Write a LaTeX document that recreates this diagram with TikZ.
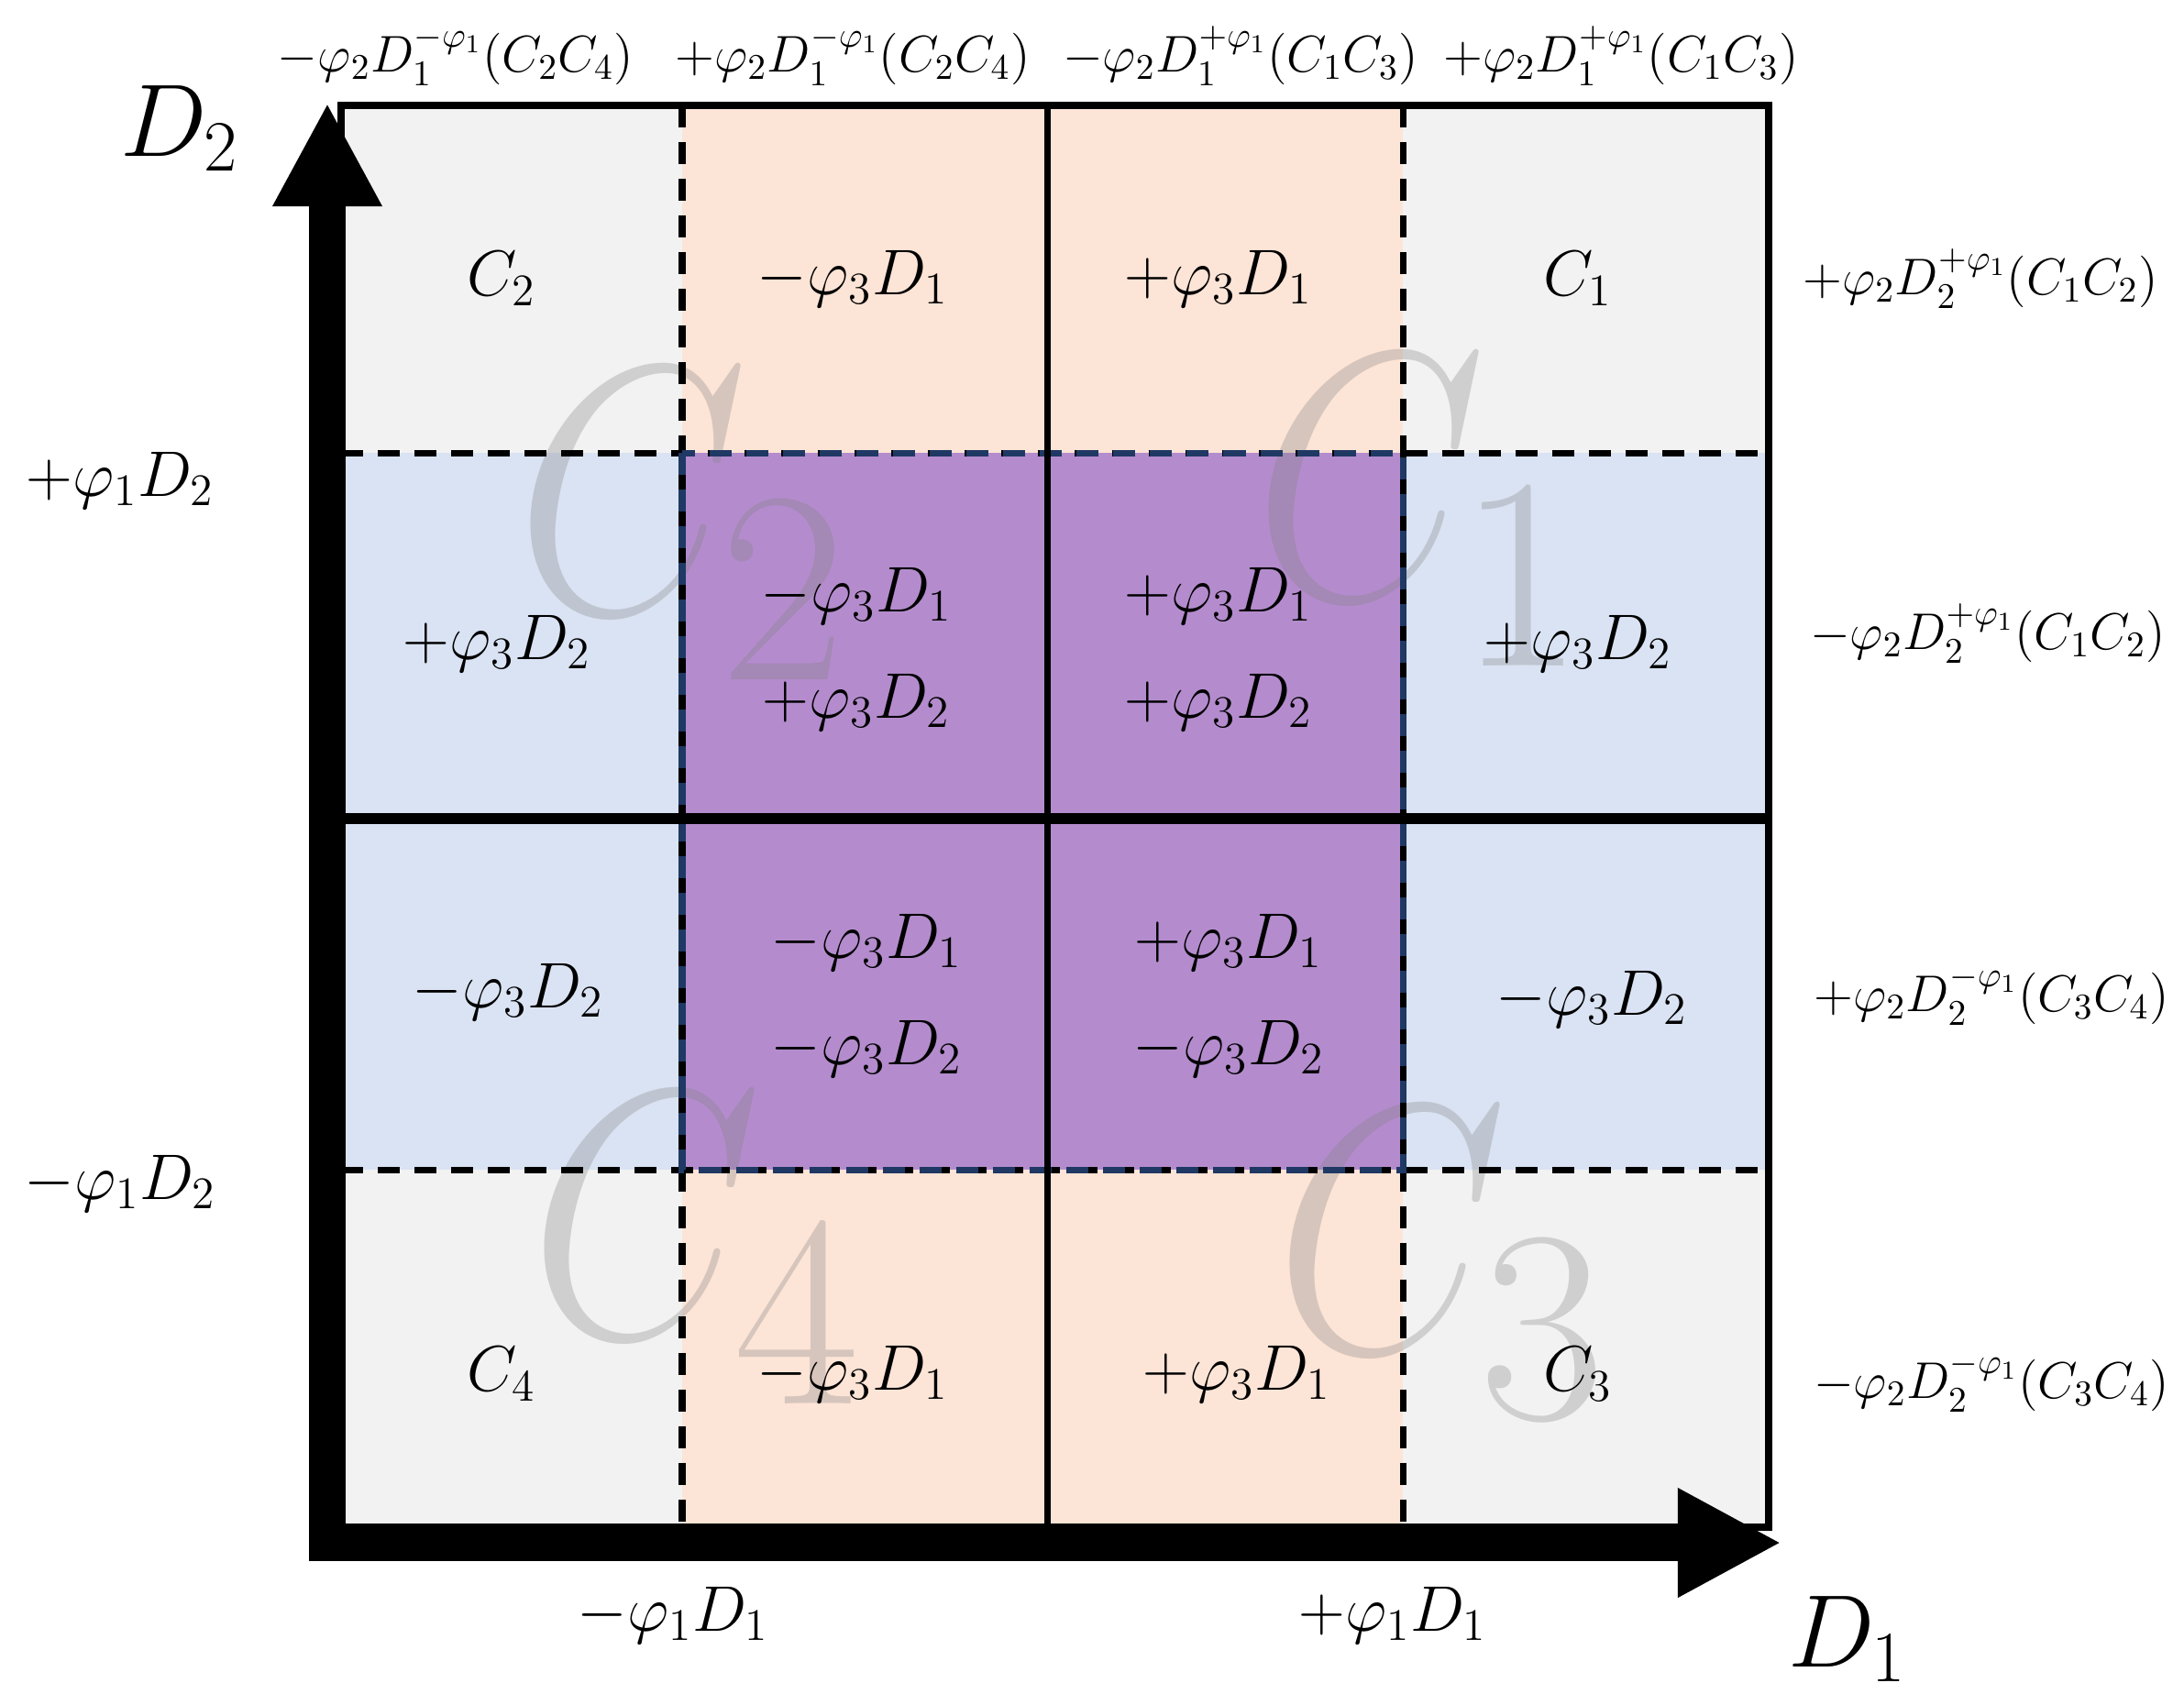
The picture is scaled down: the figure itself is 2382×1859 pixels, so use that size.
\documentclass[tikz,border=0pt]{standalone}
\usepackage{fix-cm}
\usepackage{amsmath}
\usetikzlibrary{arrows.meta}
\definecolor{cellgray}{HTML}{F2F2F2}
\definecolor{peach}{HTML}{FCE4D6}
\definecolor{paleblue}{HTML}{DAE3F3}
\definecolor{lilac}{RGB}{180,140,205}
\definecolor{navy}{HTML}{1F3864}
\newcommand{\ghostC}[1]{\scalebox{0.85}[1]{$C$}\kern-9pt\raisebox{-21pt}{\fontsize{85}{85}\selectfont #1}}
\begin{document}
\begin{tikzpicture}[x=0.01cm, y=-0.01cm,
  celltext/.style={font=\fontsize{20}{24}\selectfont, inner sep=0pt},
  pairtext/.style={font=\fontsize{20}{33}\selectfont, align=center, inner sep=0pt},
  edgelabel/.style={font=\fontsize{16}{19}\selectfont, inner sep=0pt},
  sidelabel/.style={font=\fontsize{20}{24}\selectfont, inner sep=0pt},
  axislabel/.style={font=\fontsize{32}{38}\selectfont, inner sep=0pt},
  ghost/.style={font=\fontsize{110}{120}\selectfont, text=gray, text opacity=0.3, inner sep=0pt, anchor=base west},
  dashline/.style={line width=2pt, dash pattern=on 0.24cm off 0.16cm},
  axis/.style={line width=0.4cm, -{Triangle[length=1.13cm, width=1.11cm]}}]
  \useasboundingbox (0,0) rectangle (2382,1859);
  \fill[cellgray] (372,115) rectangle (1929,1666);
  \fill[peach] (744,115) rectangle (1530,1666);
  \fill[paleblue] (372,494) rectangle (1929,1276);
  \fill[lilac] (744,494) rectangle (1530,1276);
  \node[ghost] (wC2) at (562,668) {\ghostC{2}};
  \node[ghost] (wC1) at (1367,653) {\ghostC{1}};
  \node[ghost] (wC4) at (577,1458) {\ghostC{4}};
  \node[ghost] (wC3) at (1390,1474) {\ghostC{3}};
  \draw[dashline] (744,115) -- (744,1666) (1530,115) -- (1530,1666);
  \draw[dashline] (372,494) -- (1929,494) (372,1276) -- (1929,1276);
  \draw[dashline, navy] (744,494) rectangle (1530,1276);
  \draw[line width=2.2pt] (372,115) rectangle (1929,1666);
  \draw[line width=2pt] (1142,115) -- (1142,1666);
  \draw[line width=3.4pt] (372,893) -- (1929,893);
  \coordinate (origin) at (357,1683);
  \draw[axis] (357,1702) -- (357,112);
  \draw[axis] (337,1683) -- (1943,1683);
  \node[axislabel] (ax2) at (196,140) {$D_2$};
  \node[axislabel] (ax1) at (2015,1788) {$D_1$};
  \node[celltext] (c11) at (547,304) {$C_2$};
  \node[celltext] (c12) at (930,304) {$-\varphi_3 D_1$};
  \node[celltext] (c13) at (1329,304) {$+\varphi_3 D_1$};
  \node[celltext] (c14) at (1721,304) {$C_1$};
  \node[celltext] (c21) at (542,702) {$+\varphi_3 D_2$};
  \node[pairtext] (c22) at (934,708) {$-\varphi_3 D_1$\\$+\varphi_3 D_2$};
  \node[pairtext] (c23) at (1329,708) {$+\varphi_3 D_1$\\$+\varphi_3 D_2$};
  \node[celltext] (c24) at (1721,702) {$+\varphi_3 D_2$};
  \node[celltext] (c31) at (554,1082) {$-\varphi_3 D_2$};
  \node[pairtext] (c32) at (945,1086) {$-\varphi_3 D_1$\\$-\varphi_3 D_2$};
  \node[pairtext] (c33) at (1340,1086) {$+\varphi_3 D_1$\\$-\varphi_3 D_2$};
  \node[celltext] (c34) at (1736,1090) {$-\varphi_3 D_2$};
  \node[celltext] (c41) at (547,1499) {$C_4$};
  \node[celltext] (c42) at (930,1499) {$-\varphi_3 D_1$};
  \node[celltext] (c43) at (1349,1499) {$+\varphi_3 D_1$};
  \node[celltext] (c44) at (1721,1499) {$C_3$};
  \node[edgelabel] (t1) at (497,61) {$-\varphi_2 D_1^{-\varphi_1}(C_2C_4)$};
  \node[edgelabel] (t2) at (930,61) {$+\varphi_2 D_1^{-\varphi_1}(C_2C_4)$};
  \node[edgelabel] (t3) at (1353,61) {$-\varphi_2 D_1^{+\varphi_1}(C_1C_3)$};
  \node[edgelabel] (t4) at (1768,61) {$+\varphi_2 D_1^{+\varphi_1}(C_1C_3)$};
  \node[edgelabel] (r1) at (2160,304) {$+\varphi_2 D_2^{+\varphi_1}(C_1C_2)$};
  \node[edgelabel] (r2) at (2168,691) {$-\varphi_2 D_2^{+\varphi_1}(C_1C_2)$};
  \node[edgelabel] (r3) at (2172,1086) {$+\varphi_2 D_2^{-\varphi_1}(C_3C_4)$};
  \node[edgelabel] (r4) at (2172,1508) {$-\varphi_2 D_2^{-\varphi_1}(C_3C_4)$};
  \node[sidelabel] (l1) at (131,524) {$+\varphi_1 D_2$};
  \node[sidelabel] (l2) at (131,1291) {$-\varphi_1 D_2$};
  \node[sidelabel] (b1) at (734,1762) {$-\varphi_1 D_1$};
  \node[sidelabel] (b2) at (1519,1762) {$+\varphi_1 D_1$};
\end{tikzpicture}
\end{document}
